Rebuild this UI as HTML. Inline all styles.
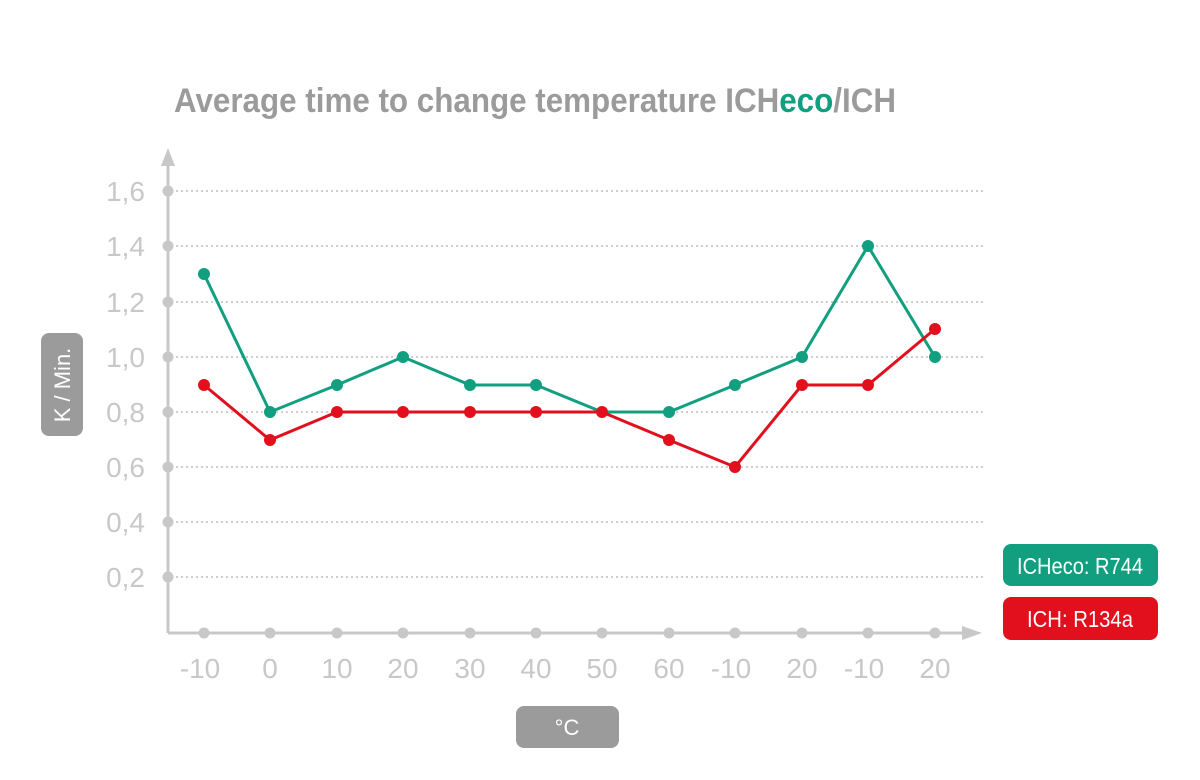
<!DOCTYPE html>
<html><head><meta charset="utf-8"><style>
html,body{margin:0;padding:0;background:#fff;width:1200px;height:780px;overflow:hidden}
svg{display:block}
text{font-family:"Liberation Sans",sans-serif}
</style></head><body>
<svg width="1200" height="780" viewBox="0 0 1200 780" xmlns="http://www.w3.org/2000/svg">
<text x="174" y="112" font-size="34" font-weight="bold" fill="#9b9b9b" textLength="722" lengthAdjust="spacingAndGlyphs">Average time to change temperature ICH<tspan fill="#119f80">eco</tspan>/ICH</text>
<g stroke="#bdbdbd" stroke-width="1.5" stroke-dasharray="2,3">
<line x1="176" y1="191" x2="985" y2="191"/><line x1="176" y1="246" x2="985" y2="246"/>
<line x1="176" y1="302" x2="985" y2="302"/><line x1="176" y1="357" x2="985" y2="357"/>
<line x1="176" y1="412" x2="985" y2="412"/><line x1="176" y1="467" x2="985" y2="467"/>
<line x1="176" y1="522" x2="985" y2="522"/><line x1="176" y1="577" x2="985" y2="577"/>
</g>
<g stroke="#c8c8c8" stroke-width="3" fill="none">
<line x1="168" y1="633" x2="168" y2="162"/><line x1="168" y1="633" x2="962" y2="633"/>
</g>
<polygon points="168,148 161,166 175,166" fill="#c8c8c8"/>
<polygon points="982,633 962,626 962,640" fill="#c8c8c8"/>
<g fill="#c8c8c8">
<circle cx="168" cy="191" r="5.5"/><circle cx="168" cy="246" r="5.5"/><circle cx="168" cy="302" r="5.5"/><circle cx="168" cy="357" r="5.5"/><circle cx="168" cy="412" r="5.5"/><circle cx="168" cy="467" r="5.5"/><circle cx="168" cy="522" r="5.5"/><circle cx="168" cy="577" r="5.5"/>
<circle cx="204" cy="633" r="5.5"/><circle cx="270" cy="633" r="5.5"/><circle cx="337" cy="633" r="5.5"/><circle cx="403" cy="633" r="5.5"/><circle cx="470" cy="633" r="5.5"/><circle cx="536" cy="633" r="5.5"/><circle cx="602" cy="633" r="5.5"/><circle cx="669" cy="633" r="5.5"/><circle cx="735" cy="633" r="5.5"/><circle cx="802" cy="633" r="5.5"/><circle cx="868" cy="633" r="5.5"/><circle cx="935" cy="633" r="5.5"/>
</g>
<g fill="#c8c8c8" font-size="28" text-anchor="end">
<text x="145" y="201">1,6</text><text x="145" y="256">1,4</text><text x="145" y="312">1,2</text><text x="145" y="367">1,0</text><text x="145" y="422">0,8</text><text x="145" y="477">0,6</text><text x="145" y="532">0,4</text><text x="145" y="587">0,2</text>
</g>
<g fill="#c8c8c8" font-size="28" text-anchor="middle">
<text x="200" y="678">-10</text><text x="270" y="678">0</text><text x="337" y="678">10</text><text x="403" y="678">20</text><text x="470" y="678">30</text><text x="536" y="678">40</text><text x="602" y="678">50</text><text x="669" y="678">60</text><text x="731" y="678">-10</text><text x="802" y="678">20</text><text x="864" y="678">-10</text><text x="935" y="678">20</text>
</g>
<polyline fill="none" stroke="#119f80" stroke-width="3" points="204,274 270,412 337,385 403,357 470,385 536,385 602,412 669,412 735,385 802,357 868,246 935,357"/>
<polyline fill="none" stroke="#e2101d" stroke-width="3" points="204,385 270,440 337,412 403,412 470,412 536,412 602,412 669,440 735,467 802,385 868,385 935,329"/>
<g fill="#119f80">
<circle cx="204" cy="274" r="6"/><circle cx="270" cy="412" r="6"/><circle cx="337" cy="385" r="6"/><circle cx="403" cy="357" r="6"/><circle cx="470" cy="385" r="6"/><circle cx="536" cy="385" r="6"/><circle cx="669" cy="412" r="6"/><circle cx="735" cy="385" r="6"/><circle cx="802" cy="357" r="6"/><circle cx="868" cy="246" r="6"/><circle cx="935" cy="357" r="6"/>
</g>
<g fill="#e2101d">
<circle cx="204" cy="385" r="6"/><circle cx="270" cy="440" r="6"/><circle cx="337" cy="412" r="6"/><circle cx="403" cy="412" r="6"/><circle cx="470" cy="412" r="6"/><circle cx="536" cy="412" r="6"/><circle cx="602" cy="412" r="6"/><circle cx="669" cy="440" r="6"/><circle cx="735" cy="467" r="6"/><circle cx="802" cy="385" r="6"/><circle cx="868" cy="385" r="6"/><circle cx="935" cy="329" r="6"/>
</g>
<rect x="41" y="333" width="42" height="103" rx="8" fill="#9b9b9b"/>
<text transform="translate(70,385) rotate(-90)" fill="#fff" font-size="22" text-anchor="middle">K / Min.</text>
<rect x="516" y="706" width="103" height="42" rx="8" fill="#9b9b9b"/>
<text x="567" y="735" fill="#fff" font-size="22" text-anchor="middle">°C</text>
<rect x="1003" y="544" width="155" height="42" rx="8" fill="#119f80"/>
<text x="1080" y="574" fill="#fff" font-size="23" text-anchor="middle" textLength="126" lengthAdjust="spacingAndGlyphs">ICHeco: R744</text>
<rect x="1003" y="597" width="155" height="43" rx="8" fill="#e2101d"/>
<text x="1080" y="627" fill="#fff" font-size="23" text-anchor="middle" textLength="106" lengthAdjust="spacingAndGlyphs">ICH: R134a</text>
</svg>
</body></html>
